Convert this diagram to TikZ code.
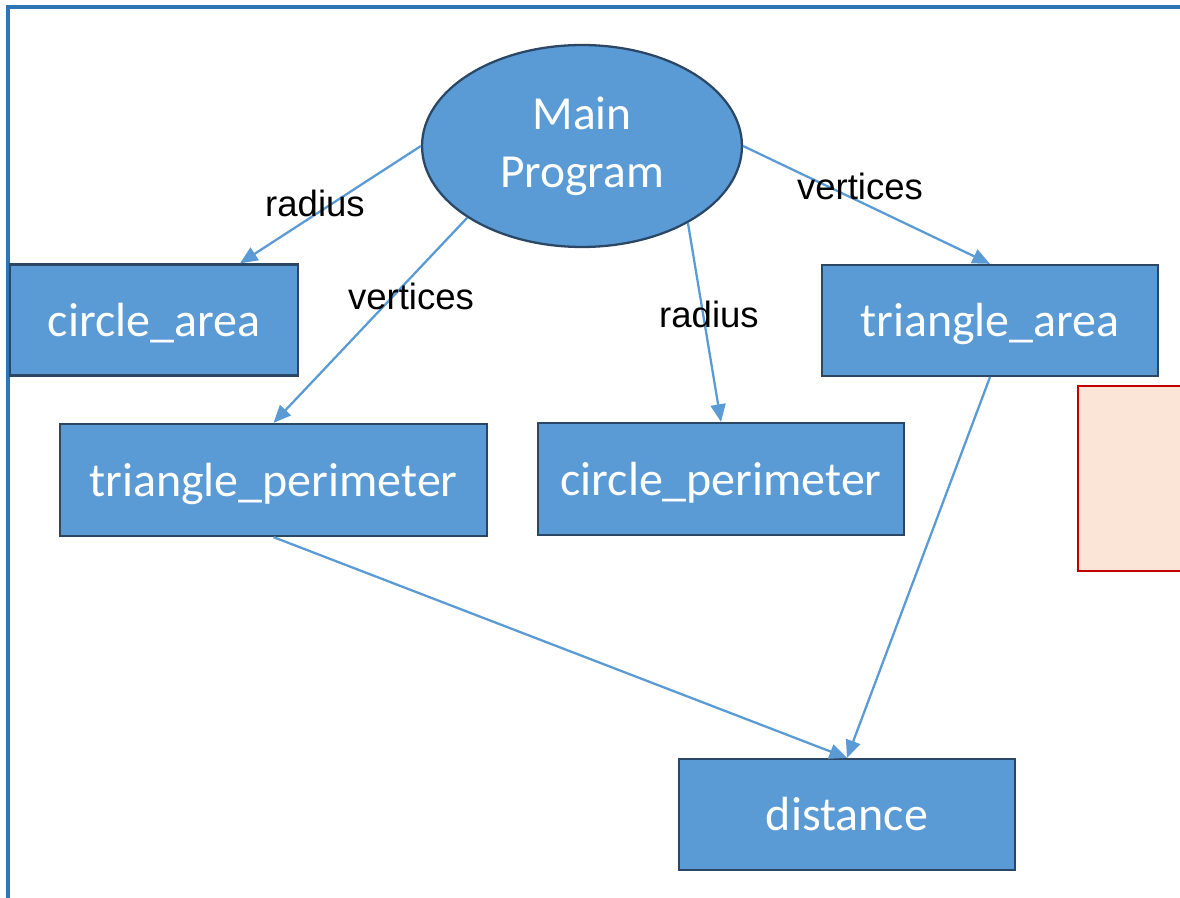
\documentclass[tikz,border=0pt]{standalone}
\usepackage{fontspec}
\setmainfont{Carlito}
\newfontfamily\labelfont{Liberation Sans}
\usepackage{xcolor}
\usepackage{tikz}
\usetikzlibrary{arrows.meta,shapes.geometric}
\definecolor{frameblue}{HTML}{2E75B6}
\definecolor{boxfill}{HTML}{5B9BD5}
\definecolor{boxline}{HTML}{2B4766}
\definecolor{linkblue}{HTML}{5B9BD5}
\definecolor{notefill}{HTML}{FBE5D6}
\definecolor{notered}{HTML}{C00000}
\tikzset{
  frame/.style={draw=frameblue,line width=1.8pt},
  mainnode/.style={ellipse,draw=boxline,fill=boxfill,line width=1.3pt,text=white,
    inner sep=0pt,minimum width=6.4cm,minimum height=4.04cm,align=center,
    font=\fontsize{27}{33}\selectfont},
  funcbox/.style={rectangle,draw=boxline,fill=boxfill,line width=1.3pt,text=white,
    inner sep=0pt,minimum height=2.22cm,text depth=0.05em,font=\fontsize{27.3}{31}\selectfont},
  link/.style={-{Triangle[length=10pt,width=8.5pt]},draw=linkblue,line width=1.3pt},
  argtext/.style={text=black,inner sep=1pt,font=\labelfont\fontsize{20.8}{24}\selectfont}
}
\begin{document}
\begin{tikzpicture}[x=0.02cm,y=-0.02cm]
  \useasboundingbox (0,0) rectangle (1180,898);
  \draw[frame] (8,910)--(8,7)--(1195,7);
  \draw[draw=notered,fill=notefill,line width=1.4pt] (1078,386) rectangle (1195,571);

  \node[mainnode] (main) at (582,146) {Main\\Program};
  \node[funcbox,minimum width=5.76cm] (carea) at (154,320) {circle\_area};
  \node[funcbox,minimum width=8.54cm,minimum height=2.24cm] (tperim) at (273.5,480) {triangle\_perimeter};
  \node[funcbox,minimum width=7.32cm,minimum height=2.24cm] (cperim) at (721,479) {circle\_perimeter};
  \node[funcbox,minimum width=6.72cm] (tarea) at (990,320.5) {triangle\_area};
  \node[funcbox,minimum width=6.72cm] (dist) at (847,814.5) {distance};

  \draw[link] (main.180) -- ([xshift=1.72cm]carea.north);
  \draw[link] (main.212) -- (tperim.north);
  \draw[link] (main.-36) -- (cperim.north);
  \draw[link] (main.0) -- (tarea.north);
  \draw[link] (tperim.south) -- (dist.north);
  \draw[link] (tarea.south) -- (dist.north);

  \node[argtext] (radiusa) at (315,203) {radius};
  \node[argtext] (verta) at (411,296) {vertices};
  \node[argtext] (radiusb) at (709,314) {radius};
  \node[argtext] (vertb) at (860,186) {vertices};
\end{tikzpicture}
\end{document}
